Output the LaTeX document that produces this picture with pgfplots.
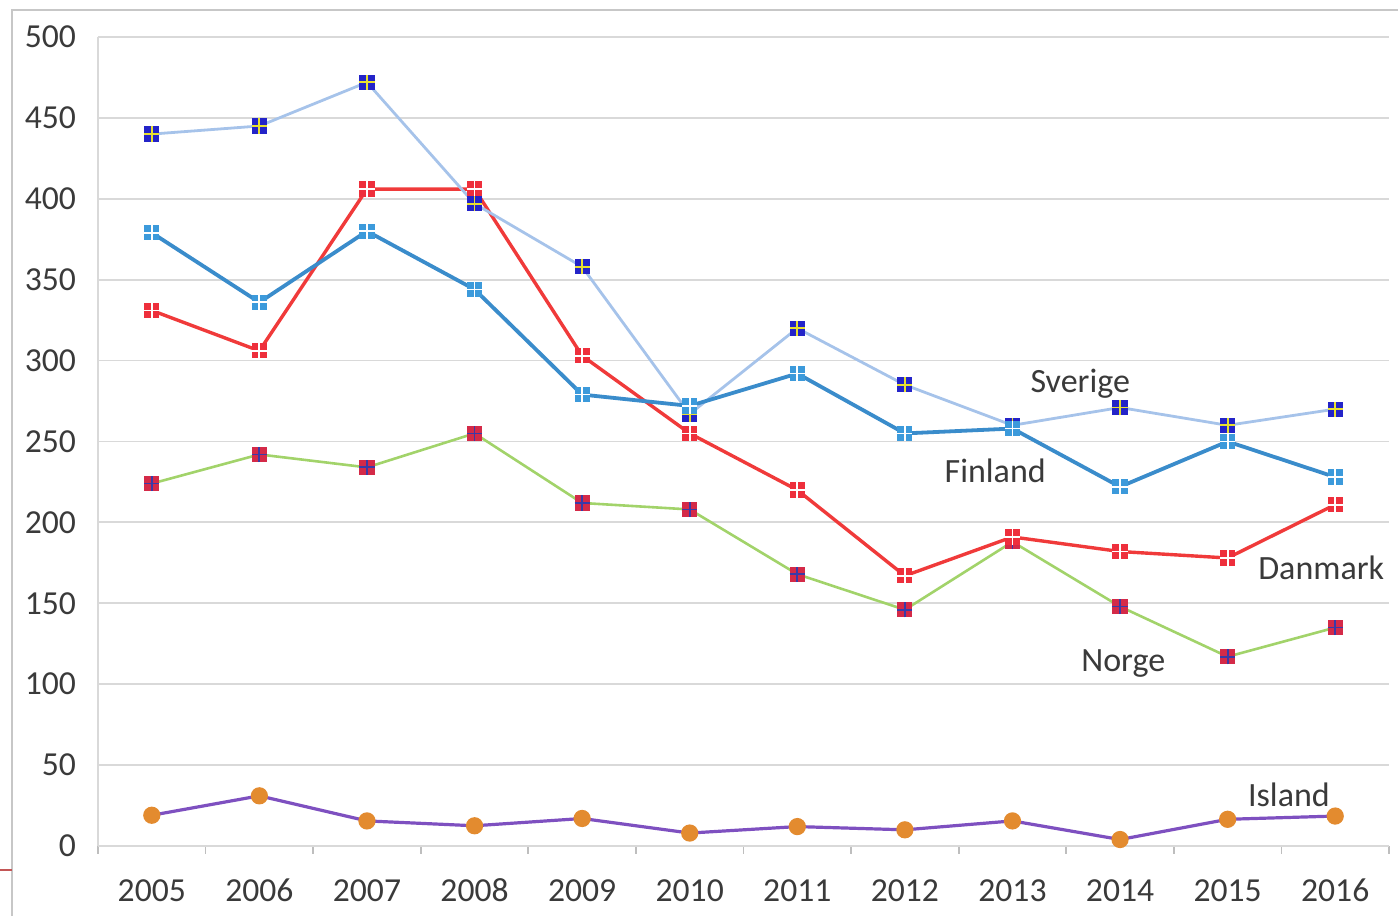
\documentclass[border=0pt]{standalone}
\usepackage{pgfplots}
\pgfplotsset{compat=1.18}
\usepackage{fontspec}
\setmainfont{Carlito}

\definecolor{txt}{HTML}{3A3A3A}
\definecolor{gridc}{HTML}{D9D9D9}
\definecolor{seline}{HTML}{A6C3EA}
\definecolor{sefill}{HTML}{2424C8}
\definecolor{secross}{HTML}{E8E030}
\definecolor{filine}{HTML}{3A8CCB}
\definecolor{fifill}{HTML}{3C9ADB}
\definecolor{dkline}{HTML}{F03A3A}
\definecolor{dkfill}{HTML}{EE2F3C}
\definecolor{noline}{HTML}{A2D36A}
\definecolor{nofill}{HTML}{D42A48}
\definecolor{nocross}{HTML}{3A3AA8}
\definecolor{isline}{HTML}{7E50C0}
\definecolor{isfill}{HTML}{E38B2F}

% square marks with a cross, one per country
\newcommand{\crossmark}[3]{%
  \pgfdeclareplotmark{#1}{%
    \pgfsetfillcolor{#2}%
    \pgfpathrectangle{\pgfpoint{-\pgfplotmarksize}{-\pgfplotmarksize}}{\pgfpoint{2\pgfplotmarksize}{2\pgfplotmarksize}}%
    \pgfusepath{fill}%
    \pgfsetstrokecolor{#3}\pgfsetlinewidth{0.9pt}%
    \pgfpathmoveto{\pgfpoint{0pt}{-\pgfplotmarksize}}\pgfpathlineto{\pgfpoint{0pt}{\pgfplotmarksize}}%
    \pgfpathmoveto{\pgfpoint{-\pgfplotmarksize}{0pt}}\pgfpathlineto{\pgfpoint{\pgfplotmarksize}{0pt}}%
    \pgfusepath{stroke}}}
\crossmark{se}{sefill}{secross}
\crossmark{fi}{fifill}{white}
\crossmark{dk}{dkfill}{white}
\crossmark{no}{nofill}{nocross}

\pgfplotstableread{
x  se   fi   dk   no   is
0  440  379  331  224  19
1  445  336  306  242  31
2  472  380  406  234  15.5
3  397  344  406  255  12.5
4  358  279  303  212  17
5  267  272  255  208  8
6  320  292  220  168  12
7  285  255  167  146  10
8  260  258  191  188  15.5
9  271  222  182  148  4
10 260  250  178  117  16.5
11 270  228  211  135  18.5
}\datatable

\begin{document}
\begin{tikzpicture}
\useasboundingbox (0pt,0pt) rectangle (699pt,458pt);
\draw[gridc!80!gray, line width=1.2pt] (6pt,0pt) -- (6pt,453pt) -- (699pt,453pt);
\draw[dkline!60!gray, line width=0.8pt] (0pt,23pt) -- (6pt,23pt);
\begin{axis}[
  at={(49pt,35pt)}, anchor=south west,
  scale only axis, width=645.5pt, height=404.5pt,
  xmin=-0.5, xmax=11.5, ymin=0, ymax=500,
  xtick={-0.5,0.5,1.5,2.5,3.5,4.5,5.5,6.5,7.5,8.5,9.5,10.5,11.5},
  xticklabels={2005,2006,2007,2008,2009,2010,2011,2012,2013,2014,2015,2016},
  x tick label as interval,
  ytick={0,50,...,500},
  ymajorgrids, grid style={gridc, line width=0.9pt},
  axis x line*=bottom, axis y line*=left,
  axis line style={gridc, line width=0.9pt},
  x axis line style={-}, y axis line style={-},
  major tick length=4pt,
  xtick style={gridc!70!gray, line width=0.9pt},
  xtick pos=bottom, tick align=outside,
  ytick style={draw=none},
  /pgf/number format/assume math mode=true,
  ticklabel style={font=\fontsize{16.8}{18}\selectfont, text=txt},
  xticklabel style={yshift=-9pt, text height=11pt, text depth=0pt},
  yticklabel style={xshift=-3.5pt},
  clip=false,
]
\addplot[noline, line width=1.3pt, mark=no, mark size=3.8pt] table[x=x,y=no]{\datatable};
\addplot[dkline, line width=1.7pt, mark=dk, mark size=3.8pt] table[x=x,y=dk]{\datatable};
\addplot[seline, line width=1.4pt, mark=se, mark size=3.8pt] table[x=x,y=se]{\datatable};
\addplot[filine, line width=1.9pt, mark=fi, mark size=3.8pt] table[x=x,y=fi]{\datatable};
\addplot[isline, line width=1.6pt, mark=*, mark size=3.5pt, mark options={fill=isfill, draw=isfill}] table[x=x,y=is]{\datatable};

\begin{scope}[every node/.style={font=\fontsize{17}{19}\selectfont, text=txt}]
\node at (axis cs:8.63,285.5) {Sverige};
\node at (axis cs:7.84,232) {Finland};
\node at (axis cs:10.87,172) {Danmark};
\node at (axis cs:9.03,113) {Norge};
\node at (axis cs:10.57,31.5) {Island};
\end{scope}
\end{axis}
\end{tikzpicture}
\end{document}
